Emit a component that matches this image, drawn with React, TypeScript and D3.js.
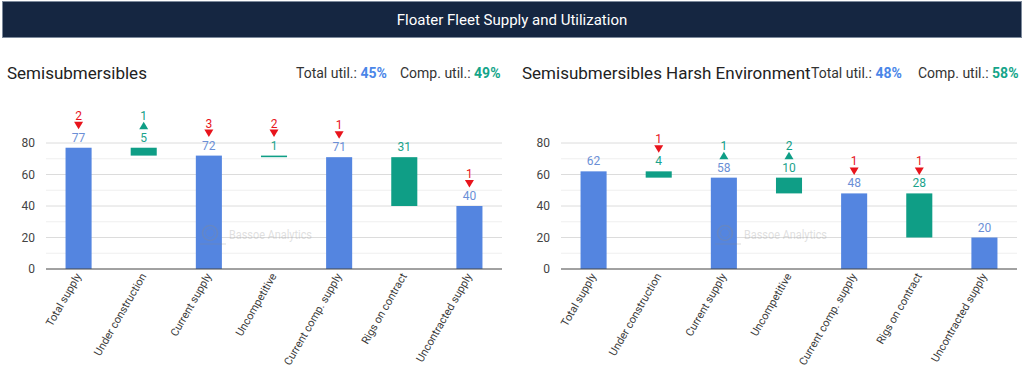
import React from "react";
import * as d3 from "d3";

const categories = [
  "Total supply",
  "Under construction",
  "Current supply",
  "Uncompetitive",
  "Current comp. supply",
  "Rigs on contract",
  "Uncontracted supply",
];

// bar kinds: "total" = blue from 0, "delta" = green floating
const kinds = ["total", "delta", "total", "delta", "total", "delta", "total"];

// Left chart: Semisubmersibles
const semiLow = [0, 72, 0, 71, 0, 40, 0];
const semiHigh = [77, 77, 72, 72, 71, 71, 40];
const semiLabels = ["77", "5", "72", "1", "71", "31", "40"];
const semiChange = [-2, 1, -3, -2, -1, 0, -1];

// Right chart: Semisubmersibles Harsh Environment
const harshLow = [0, 58, 0, 48, 0, 20, 0];
const harshHigh = [62, 62, 58, 58, 48, 48, 20];
const harshLabels = ["62", "4", "58", "10", "48", "28", "20"];
const harshChange = [0, -1, 1, 2, -1, -1, 0];

const majorTicks = [0, 20, 40, 60, 80];
const minorTicks = [10, 30, 50, 70];

const BLUE = "#5485e0";
const GREEN = "#0f9e86";
const RED = "#e8141c";
const FONT = "Roboto, 'Noto Sans', sans-serif";

type PanelProps = {
  x0: number;
  x1: number;
  title: string;
  totalUtil: string;
  compUtil: string;
  low: number[];
  high: number[];
  labels: string[];
  change: number[];
  titleX: number;
  utilX: number;
  compX: number;
};

function Panel(p: PanelProps) {
  const y = d3.scaleLinear().domain([0, 90]).range([269, 127.25]);
  const x = d3
    .scaleBand<string>()
    .domain(categories)
    .range([p.x0, p.x1])
    .paddingInner(0.6)
    .paddingOuter(0.3);
  const bw = x.bandwidth();
  const mid = (p.x0 + p.x1) / 2;

  return (
    <g>
      <text x={p.titleX} y={79} fontSize={17} fill="#222" fontFamily={FONT}>
        {p.title}
      </text>
      <text x={p.utilX} y={78} fontSize={14} fill="#333" fontFamily={FONT}>
        Total util.:{" "}
        <tspan fill="#4a86e8" fontWeight="bold">
          {p.totalUtil}
        </tspan>
      </text>
      <text x={p.compX} y={78} fontSize={14} fill="#333" fontFamily={FONT}>
        Comp. util.:{" "}
        <tspan fill="#14a58a" fontWeight="bold">
          {p.compUtil}
        </tspan>
      </text>

      {minorTicks.map((t) => (
        <line
          key={"m" + t}
          x1={p.x0}
          x2={p.x1}
          y1={y(t)}
          y2={y(t)}
          stroke="#efefef"
          strokeWidth={1}
        />
      ))}
      {majorTicks.map((t) => (
        <g key={"M" + t}>
          {t !== 0 && (
            <line
              x1={p.x0}
              x2={p.x1}
              y1={y(t)}
              y2={y(t)}
              stroke="#dcdcdc"
              strokeWidth={1}
            />
          )}
          <text
            x={p.x0 - 11}
            y={y(t) + 4}
            textAnchor="end"
            fontSize={12}
            fill="#444"
            fontFamily={FONT}
          >
            {t}
          </text>
        </g>
      ))}

      {categories.map((c, i) => {
        const isTotal = kinds[i] === "total";
        const top = y(p.high[i]);
        const bot = y(p.low[i]);
        const cx = (x(c) as number) + bw / 2;
        const ch = p.change[i];
        return (
          <g key={c}>
            <rect
              x={x(c)}
              y={top}
              width={bw}
              height={Math.max(1.5, bot - top)}
              fill={isTotal ? BLUE : GREEN}
            />
            <text
              x={cx}
              y={top - 6}
              textAnchor="middle"
              fontSize={12}
              fill={isTotal ? "#6b8fd6" : "#1aa38b"}
              fontFamily={FONT}
            >
              {p.labels[i]}
            </text>
            {ch !== 0 && (
              <g>
                {ch < 0 ? (
                  <path
                    d={`M${cx - 4.5},${top - 26} L${cx + 4.5},${top - 26} L${cx},${top - 18.5} Z`}
                    fill={RED}
                  />
                ) : (
                  <path
                    d={`M${cx - 4.5},${top - 18.5} L${cx + 4.5},${top - 18.5} L${cx},${top - 26} Z`}
                    fill={GREEN}
                  />
                )}
                <text
                  x={cx}
                  y={top - 28}
                  textAnchor="middle"
                  fontSize={12}
                  fill={ch < 0 ? RED : GREEN}
                  fontFamily={FONT}
                >
                  {Math.abs(ch)}
                </text>
              </g>
            )}
            <text
              transform={`translate(${cx + 3},${276}) rotate(-60)`}
              textAnchor="end"
              fontSize={11}
              fill="#3a3a3a"
              fontFamily={FONT}
            >
              {c}
            </text>
          </g>
        );
      })}

      {/* watermark (drawn on top of bars) */}
      <g opacity={0.3}>
        <circle cx={mid - 64} cy={233} r={7.5} fill="none" stroke="#8a8a8a" strokeWidth={1.6} />
        <circle cx={mid - 64} cy={233} r={4.5} fill="none" stroke="#8a8a8a" strokeWidth={0.8} />
        <line x1={mid - 74} x2={mid - 48} y1={244} y2={244} stroke="#8a8a8a" strokeWidth={1} />
        <text
          x={mid - 45}
          y={239}
          fontSize={12.5}
          fill="#9a9a9a"
          fontFamily={FONT}
          textLength={83}
          lengthAdjust="spacingAndGlyphs"
        >
          Bassoe Analytics
        </text>
      </g>

      <line x1={p.x0} x2={p.x1} y1={y(0)} y2={y(0)} stroke="#444" strokeWidth={1} />
    </g>
  );
}

export default function App() {
  return (
    <svg
      width={1024}
      height={367}
      style={{ position: "absolute", left: 0, top: 0, background: "#fff" }}
    >
      <rect x={0} y={0} width={1024} height={367} fill="#fff" />
      <rect x={2.5} y={1.5} width={1019} height={36} fill="#152641" stroke="#7d8a9c" strokeWidth={1} />
      <text
        x={512}
        y={25}
        textAnchor="middle"
        fontSize={15}
        fill="#fff"
        fontFamily={FONT}
      >
        Floater Fleet Supply and Utilization
      </text>
      <Panel
        x0={46}
        x1={502}
        title="Semisubmersibles"
        totalUtil="45%"
        compUtil="49%"
        low={semiLow}
        high={semiHigh}
        labels={semiLabels}
        change={semiChange}
        titleX={7}
        utilX={296}
        compX={400}
      />
      <Panel
        x0={561}
        x1={1017}
        title="Semisubmersibles Harsh Environment"
        totalUtil="48%"
        compUtil="58%"
        low={harshLow}
        high={harshHigh}
        labels={harshLabels}
        change={harshChange}
        titleX={522}
        utilX={811}
        compX={918}
      />
    </svg>
  );
}
